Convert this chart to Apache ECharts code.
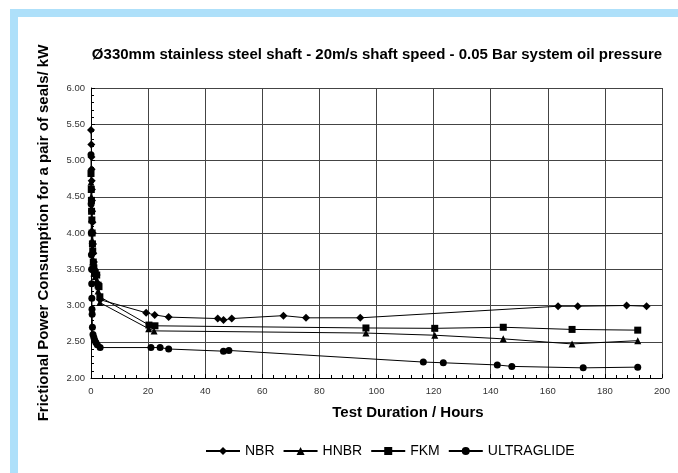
<!DOCTYPE html>
<html>
<head>
<meta charset="utf-8">
<script src="https://cdn.jsdelivr.net/npm/echarts@6/dist/echarts.min.js"></script>
<style>
html,body{margin:0;padding:0;background:#fff;}
#c{width:678px;height:473px;}
</style>
</head>
<body>
<div id="c"></div>
<script>
const titleText = 'Ø330mm stainless steel shaft - 20m/s shaft speed - 0.05 Bar system oil pressure';
const xAxisTitle = 'Test Duration / Hours';
const yAxisTitle = 'Frictional Power Consumption for a pair of seals/ kW';
const seriesNames = ['NBR', 'HNBR', 'FKM', 'ULTRAGLIDE'];
const seriesSymbols = ['diamond', 'triangle', 'rect', 'circle'];

const nbr = [[0,5.42],[0.1,5.22],[0.15,5.05],[0.2,4.88],[0.25,4.72],[0.3,4.6],[0.35,4.45],[0.4,4.3],[0.5,4.15],[0.6,4.0],[0.7,3.85],[0.8,3.72],[1.0,3.6],[1.2,3.5],[1.5,3.45],[2.0,3.42],[2.5,3.3],[3.2,3.08],
  [19.3,2.90],[22.3,2.87],[27.2,2.84],[44.4,2.82],[46.4,2.80],[49.3,2.82],[67.4,2.86],[75.3,2.83],[94.3,2.83],[163.6,2.99],[170.5,2.99],[187.6,3.00],[194.6,2.99]];
const hnbr = [[0,4.7],[0.1,4.5],[0.15,4.35],[0.2,4.2],[0.3,4.05],[0.4,3.9],[0.5,3.75],[0.6,3.6],[0.8,3.5],[1.0,3.45],[1.5,3.4],[2.0,3.35],[2.5,3.2],[3.1,3.04],
  [20.2,2.68],[22.1,2.65],[96.3,2.62],[120.4,2.59],[144.4,2.54],[168.5,2.47],[191.5,2.515]];
const fkm = [[0,4.82],[0.1,4.6],[0.15,4.45],[0.2,4.3],[0.3,4.18],[0.4,4.0],[0.5,3.85],[0.6,3.75],[0.8,3.6],[1.0,3.52],[1.5,3.45],[2.0,3.42],[2.5,3.28],[2.8,3.26],[3.1,3.12],
  [20.3,2.73],[22.4,2.72],[96.3,2.69],[120.4,2.685],[144.4,2.70],[168.5,2.67],[191.5,2.66]];
const ultraglide = [[0,5.08],[0.05,4.4],[0.1,4.0],[0.15,3.7],[0.2,3.5],[0.25,3.3],[0.3,3.1],[0.35,2.95],[0.4,2.88],[0.5,2.7],[0.7,2.6],[1.0,2.56],[1.3,2.52],[1.7,2.49],[2.2,2.46],[3.2,2.42],
  [21.0,2.42],[24.2,2.42],[27.2,2.40],[46.4,2.37],[48.3,2.38],[116.4,2.22],[123.4,2.21],[142.3,2.18],[147.4,2.16],[172.4,2.14],[191.5,2.15]];
const seriesData = [nbr, hnbr, fkm, ultraglide];

const xMin = 0, xMax = 200, xStep = 20;
const yMin = 2, yMax = 6, yStep = 0.5;

const chart = echarts.init(document.getElementById('c'), null, {renderer:'canvas'});
const font = 'Liberation Sans, Arial, sans-serif';
chart.setOption({
  animation: false,
  backgroundColor: '#ffffff',
  graphic: [
    {type:'rect', shape:{x:10, y:9, width:668, height:8}, style:{fill:'#aee0fa'}, z:-10},
    {type:'rect', shape:{x:10, y:9, width:8, height:464}, style:{fill:'#aee0fa'}, z:-10},
    {type:'text', x: 377, y: 55, style:{text:titleText, font:'bold 15px ' + font, fill:'#000', align:'center', verticalAlign:'middle'}},
    {type:'text', x: 408, y: 413, style:{text:xAxisTitle, font:'bold 15px ' + font, fill:'#000', align:'center', verticalAlign:'middle'}}
  ],
  grid: {left: 91, top: 88, right: 16, bottom: 95, containLabel:false, show:false},
  legend: {
    top: 439, left: 200,
    itemWidth: 34, itemHeight: 10, itemGap: 8,
    textStyle: {fontFamily: font, fontSize: 14, color:'#000'},
    data: seriesNames
  },
  xAxis: {
    type: 'value', min: xMin, max: xMax, interval: xStep,
    axisLine: {show:true, lineStyle:{color:'#000', width:1}},
    axisTick: {show:true, inside:true, length:4, lineStyle:{color:'#000'}},
    minorTick: {show:true, splitNumber:5, length:3, lineStyle:{color:'#000'}},
    axisLabel: {fontFamily: font, fontSize: 9.5, color:'#333', margin: 8},
    splitLine: {show:true, lineStyle:{color:'#444', width:1}}
  },
  yAxis: {
    type: 'value', min: yMin, max: yMax, interval: yStep,
    name: yAxisTitle, nameLocation: 'middle', nameGap: 40,
    nameTextStyle: {fontFamily: font, fontSize: 15, fontWeight: 'bold', color:'#000'},
    axisLine: {show:true, lineStyle:{color:'#000', width:1}},
    axisTick: {show:true, inside:true, length:4, lineStyle:{color:'#000'}},
    minorTick: {show:true, splitNumber:5, length:3, lineStyle:{color:'#000'}},
    axisLabel: {fontFamily: font, fontSize: 9.5, color:'#333', margin: 6, formatter: v => v.toFixed(2)},
    splitLine: {show:true, lineStyle:{color:'#444', width:1}}
  },
  series: seriesNames.map((n, i) => ({
    name: n, type: 'line', data: seriesData[i],
    symbol: seriesSymbols[i], symbolSize: seriesSymbols[i] === 'diamond' ? 8 : 7,
    showSymbol: true,
    itemStyle: {color:'#000'},
    lineStyle: {color:'#000', width:1},
    z: 3
  }))
});
</script>
</body>
</html>
